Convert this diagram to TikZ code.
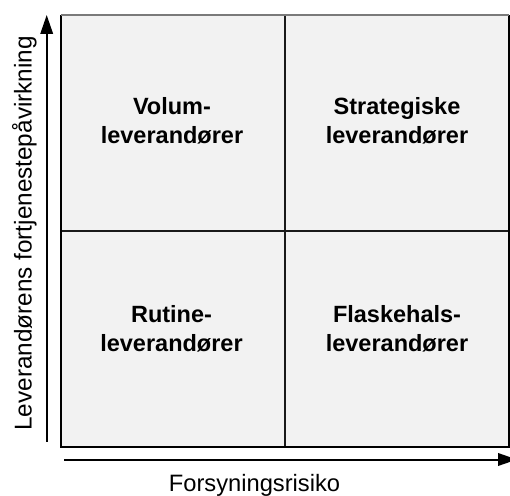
\documentclass[tikz,border=0pt]{standalone}
\usepackage{fontspec}
\setmainfont{Liberation Sans}
\usetikzlibrary{arrows.meta}
\definecolor{cellfill}{HTML}{F2F2F2}
\definecolor{frametop}{HTML}{7A7A7A}
\definecolor{gridline}{HTML}{1A1A1A}
\begin{document}
\begin{tikzpicture}[x=1pt,y=-1pt,
  cell/.style={font=\fontsize{23.5}{29}\selectfont\bfseries, align=center, anchor=base, inner sep=0pt},
  axislabel/.style={anchor=base, inner sep=0pt},
  axis/.style={line width=2pt, -{Triangle[length=19pt,width=12.5pt]}},
  divider/.style={line width=2pt, draw=gridline}]
\clip (0,0) rectangle (510,495);
\fill[white] (0,0) rectangle (510,495);

% portfolio matrix: background, dividers and frame
\fill[cellfill] (61,15.3) rectangle (508.7,446.8);
\draw[divider] (284.8,15.3) -- (284.8,446.8);
\draw[divider] (61,230.6) -- (508.7,230.6);
\draw[line width=2pt] (61,15.3) -- (61,446.8) -- (508.7,446.8) -- (508.7,15.3);
\draw[frametop, line width=1.6pt] (61,15.3) -- (508.7,15.3);

% quadrant labels (base anchor sits on the second line)
\node[cell] (volum)      at (172,143.5)   {Volum-\\leverandører};
\node[cell] (strategisk) at (397,143.3)   {Strategiske\\leverandører};
\node[cell] (rutine)     at (171.5,351.5) {Rutine-\\leverandører};
\node[cell] (flaskehals) at (397,351.3)   {Flaskehals-\\leverandører};

% axes
\coordinate (yaxis-start) at (46.7,441.7);
\coordinate (yaxis-end)   at (46.7,15);
\coordinate (xaxis-start) at (64,459.5);
\coordinate (xaxis-end)   at (517,459.5);
\draw[axis] (yaxis-start) -- (yaxis-end);
\draw[axis] (xaxis-start) -- (xaxis-end);

% axis titles
\node[axislabel, rotate=90, font=\fontsize{24.3}{28}\selectfont] (ylabel) at (31.7,233.4)
  {Leverandørens fortjenestepåvirkning};
\node[axislabel, font=\fontsize{23.7}{28}\selectfont] (xlabel) at (254.5,491)
  {Forsyningsrisiko};
\end{tikzpicture}
\end{document}
